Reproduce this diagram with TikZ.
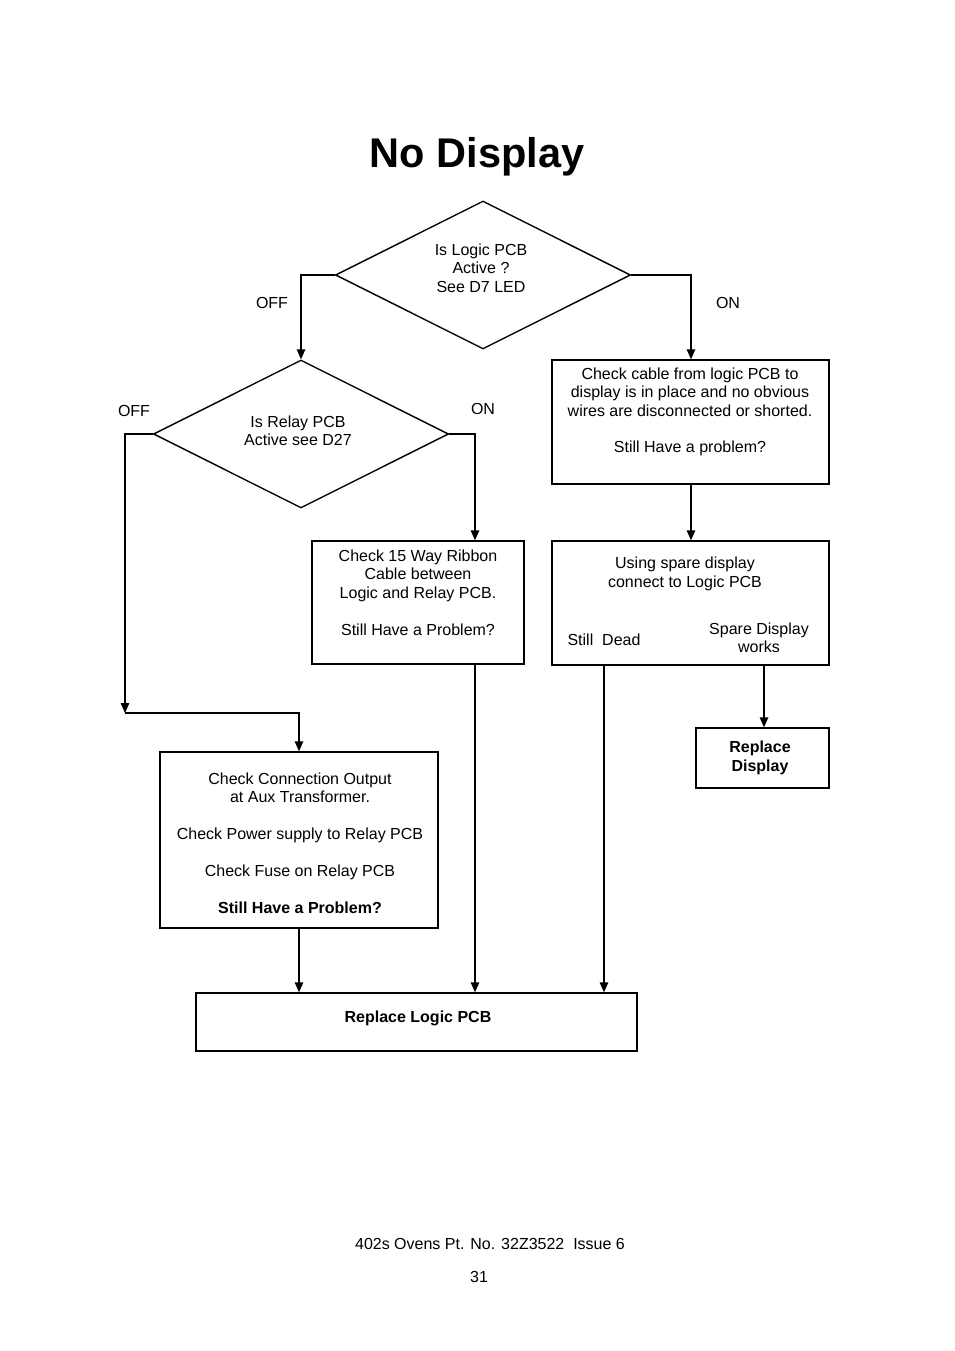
\documentclass[tikz,border=0pt]{standalone}
\usepackage{fontspec}
\setmainfont{Liberation Sans}
\usetikzlibrary{shapes.geometric,arrows.meta}
\newcommand{\txtfont}{\fontsize{16}{18.4}\selectfont}

\begin{document}
\begin{tikzpicture}[x=1pt,y=-1pt,
  dia/.style={diamond, draw, line width=1.4pt, inner sep=0pt, minimum width=295pt, minimum height=148pt},
  box/.style={draw, line width=1.4pt, inner sep=0pt, align=center, font=\txtfont},
  txt/.style={inner sep=0pt, align=center, font=\txtfont},
  arr/.style={line width=1.4pt, -{Triangle[length=10pt,width=8.5pt]}}]
\useasboundingbox (0,0) rectangle (954,1351);

\node[txt, font=\fontsize{41.5}{46}\selectfont\bfseries] (title) at (477,157) {No Display};

% decisions
\node[dia] (logic) at (483,275) {};
\node[txt] (logictxt) at (481,268) {Is Logic PCB\\Active ?\\See D7 LED};
\node[dia] (relay) at (301,434) {};
\node[txt] (relaytxt) at (298,431) {Is Relay PCB\\Active see D27};

% boxes
\node[box, minimum width=277pt, minimum height=124pt] (cable) at (690.5,422) {};
\node[txt] (cabletxt) at (690,412) {Check cable from logic PCB to\\display is in place and no obvious\\wires are disconnected or shorted.\\[18.4pt]Still Have a problem?};
\node[box, minimum width=212pt, minimum height=123pt] (ribbon) at (418,602.5) {};
\node[txt] (ribbontxt) at (418,592.5) {Check 15 Way Ribbon\\Cable between\\Logic and Relay PCB.\\[18.4pt]Still Have a Problem?};
\node[box, minimum width=277pt, minimum height=124pt] (spare) at (690.5,603) {};
\node[txt] (sparetxt) at (685,574) {Using spare display\\connect to Logic PCB};
\node[txt] (dead) at (604,640) {Still\ \ Dead};
\node[txt] (works) at (759,638) {Spare Display\\works};
\node[box, minimum width=133pt, minimum height=60pt] (newdisp) at (762.5,758) {};
\node[txt, font=\txtfont\bfseries] (newdisptxt) at (760,758) {Replace\\Display};
\node[box, minimum width=278pt, minimum height=176pt] (aux) at (299,840) {};
\node[txt] (auxtxt) at (300,843) {Check Connection Output\\at Aux Transformer.\\[18.4pt]Check Power supply to Relay PCB\\[18.4pt]Check Fuse on Relay PCB\\[18.4pt]\textbf{Still Have a Problem?}};
\node[box, minimum width=441pt, minimum height=58pt] (newlogic) at (416.5,1022) {};
\node[txt, font=\txtfont\bfseries] (newlogictxt) at (418,1018) {Replace Logic PCB};

% branch labels
\node[txt] (loff) at (272,303) {OFF};
\node[txt] (lon) at (728,303) {ON};
\node[txt] (roff) at (134,411) {OFF};
\node[txt] (ron) at (483,409) {ON};

% connectors
\coordinate (offturn) at (125,713);
\draw[arr] (logic.west) -| (relay.north);
\draw[arr] (logic.east) -| ([xshift=0.5pt]cable.north);
\draw[arr] (relay.west) -| (offturn);
\draw[arr] (offturn) -| (aux.north);
\draw[arr] (relay.east) -| ([xshift=57pt]ribbon.north);
\draw[arr] ([xshift=0.5pt]cable.south) -- ([xshift=0.5pt]spare.north);
\draw[arr] ([xshift=57pt]ribbon.south) -- ([xshift=57pt]ribbon.south |- newlogic.north);
\draw[arr] ([xshift=-86.5pt]spare.south) -- ([xshift=-86.5pt]spare.south |- newlogic.north);
\draw[arr] ([xshift=73.5pt]spare.south) -- ([xshift=73.5pt]spare.south |- newdisp.north);
\draw[arr] (aux.south) -- (aux.south |- newlogic.north);

% footer
\node[txt] (issue) at (490,1244) {402s Ovens Pt. No. 32Z3522\ \ Issue 6};
\node[txt] (page) at (479,1277) {31};
\end{tikzpicture}
\end{document}
